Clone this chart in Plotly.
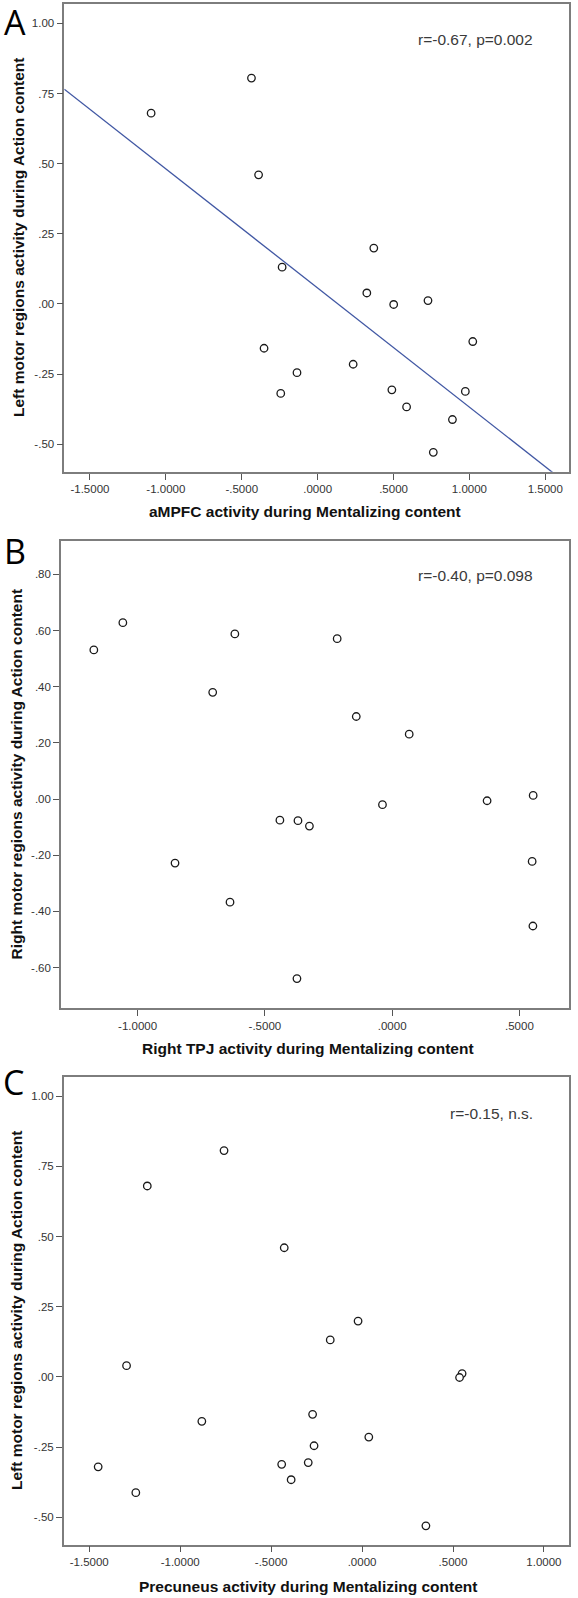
import numpy as np
import plotly.graph_objects as go

W, H = 578, 1598

# ---------------- data ----------------
# Panel A: aMPFC (Mentalizing) vs Left motor (Action)
a_x = [-1.097, -0.436, -0.389, -0.234, -0.353, -0.136, -0.243, 0.234, 0.370,
       0.324, 0.501, 0.727, 0.489, 0.586, 1.022, 0.973, 0.888, 0.762]
a_y = [0.680, 0.805, 0.460, 0.131, -0.158, -0.245, -0.319, -0.215, 0.199,
       0.039, -0.002, 0.012, -0.306, -0.367, -0.134, -0.312, -0.412, -0.529]

# Panel B: Right TPJ (Mentalizing) vs Right motor (Action)
b_x = [-1.172, -1.058, -0.618, -0.705, -0.216, -0.141, 0.067, -0.038, 0.373,
       0.554, -0.441, -0.370, -0.325, -0.853, 0.550, -0.637, 0.553, -0.374]
b_y = [0.531, 0.628, 0.588, 0.380, 0.571, 0.294, 0.231, -0.020, -0.006,
       0.013, -0.075, -0.077, -0.096, -0.228, -0.222, -0.367, -0.452, -0.639]

# Panel C: Precuneus (Mentalizing) vs Left motor (Action)
c_x = [-0.759, -1.181, -0.428, -0.022, -0.175, -1.295, 0.550, 0.536, -0.272,
       -0.881, 0.037, -0.264, -1.451, -0.442, -0.296, -0.390, -1.244, 0.351]
c_y = [0.806, 0.680, 0.460, 0.199, 0.132, 0.040, 0.012, -0.002, -0.133,
       -0.158, -0.214, -0.245, -0.320, -0.311, -0.305, -0.366, -0.412, -0.530]

a_xticks = [-1.5, -1.0, -0.5, 0.0, 0.5, 1.0, 1.5]
a_xticklabels = ["-1.5000", "-1.0000", "-.5000", ".0000", ".5000", "1.0000", "1.5000"]
a_yticks = [1.0, 0.75, 0.5, 0.25, 0.0, -0.25, -0.5]
a_yticklabels = ["1.00", ".75", ".50", ".25", ".00", "-.25", "-.50"]

b_xticks = [-1.0, -0.5, 0.0, 0.5]
b_xticklabels = ["-1.0000", "-.5000", ".0000", ".5000"]
b_yticks = [0.8, 0.6, 0.4, 0.2, 0.0, -0.2, -0.4, -0.6]
b_yticklabels = [".80", ".60", ".40", ".20", ".00", "-.20", "-.40", "-.60"]

c_xticks = [-1.5, -1.0, -0.5, 0.0, 0.5, 1.0]
c_xticklabels = ["-1.5000", "-1.0000", "-.5000", ".0000", ".5000", "1.0000"]
c_yticks = a_yticks
c_yticklabels = a_yticklabels

panel_letters = ["A", "B", "C"]
x_titles = ["aMPFC activity during Mentalizing content",
            "Right TPJ activity during Mentalizing content",
            "Precuneus activity during Mentalizing content"]
y_titles = ["Left motor regions activity during Action content",
            "Right motor regions activity during Action content",
            "Left motor regions activity during Action content"]
stats = ["r=-0.67, p=0.002", "r=-0.40, p=0.098", "r=-0.15, n.s."]

# ---------------- layout geometry (pixels) ----------------
def px(x):
    return x / W

def py(y):
    return 1 - y / H

panels = [
    dict(l=64.3, r=569.0, t=4.0, b=471.7, xr=[-1.669, 1.656], yr=[-0.598, 1.069]),
    dict(l=61.0, r=569.3, t=540.7, b=1008.3, xr=[-1.301, 0.696], yr=[-0.745, 0.920]),
    dict(l=63.8, r=569.4, t=1077.3, b=1544.6, xr=[-1.640, 1.140], yr=[-0.597, 1.067]),
]
ticks = [
    (a_xticks, a_xticklabels, a_yticks, a_yticklabels),
    (b_xticks, b_xticklabels, b_yticks, b_yticklabels),
    (c_xticks, c_xticklabels, c_yticks, c_yticklabels),
]
data = [(a_x, a_y), (b_x, b_y), (c_x, c_y)]

fig = go.Figure()
FONT = "Liberation Sans, Arial, sans-serif"
LINE_COL = "#7d7d7d"

layout = dict(
    width=W, height=H, autosize=False,
    margin=dict(l=0, r=0, t=0, b=0),
    paper_bgcolor="white", plot_bgcolor="white",
    showlegend=False, annotations=[],
)

for i, (p, tk, (xs, ys)) in enumerate(zip(panels, ticks, data)):
    sfx = "" if i == 0 else str(i + 1)
    xa, ya = "x" + sfx, "y" + sfx
    axis_common = dict(
        showline=True, linecolor=LINE_COL, linewidth=1.6, mirror=True,
        showgrid=False, zeroline=False, ticks="outside", ticklen=6,
        tickwidth=1.2, tickcolor="#555555",
        tickfont=dict(family=FONT, size=11.5, color="#333333"),
    )
    layout["xaxis" + sfx] = dict(axis_common, domain=[px(p["l"]), px(p["r"])],
                                 range=p["xr"], anchor=ya,
                                 tickmode="array", tickvals=tk[0], ticktext=tk[1])
    layout["yaxis" + sfx] = dict(axis_common, domain=[py(p["b"]), py(p["t"])],
                                 range=p["yr"], anchor=xa,
                                 tickmode="array", tickvals=tk[2], ticktext=tk[3])

    if i == 0:
        slope, intercept = np.polyfit(xs, ys, 1)
        lx = np.array(p["xr"])
        fig.add_trace(go.Scatter(x=lx, y=slope * lx + intercept, mode="lines",
                                 line=dict(color="#4057a3", width=1.3),
                                 xaxis=xa, yaxis=ya, hoverinfo="skip"))
    fig.add_trace(go.Scatter(
        x=xs, y=ys, mode="markers", xaxis=xa, yaxis=ya,
        marker=dict(symbol="circle", size=7.5, color="white",
                    line=dict(color="#1a1a1a", width=1.3)),
    ))

# annotations: panel letters, axis titles, stats
letter_pos = [(15, 22), (15, 551), (13, 1082)]
xtitle_pos = [(305, 511.7), (308, 1048.5), (308, 1586)]
ytitle_pos = [(18, 238), (16, 774.5), (16, 1311)]
stat_pos = [(535, 40), (535, 575), (535, 1113)]

for i in range(3):
    layout["annotations"].append(dict(
        text=panel_letters[i], x=px(letter_pos[i][0]), y=py(letter_pos[i][1]),
        xref="paper", yref="paper", showarrow=False, xanchor="center", yanchor="middle",
        font=dict(family="Open Sans, sans-serif", size=34, color="black")))
    layout["annotations"].append(dict(
        text="<b>" + x_titles[i] + "</b>", x=px(xtitle_pos[i][0]), y=py(xtitle_pos[i][1]),
        xref="paper", yref="paper", showarrow=False, xanchor="center", yanchor="middle",
        font=dict(family=FONT, size=15.5, color="#111111")))
    layout["annotations"].append(dict(
        text="<b>" + y_titles[i] + "</b>", x=px(ytitle_pos[i][0]), y=py(ytitle_pos[i][1]),
        xref="paper", yref="paper", showarrow=False, xanchor="center", yanchor="middle",
        textangle=-90, font=dict(family=FONT, size=15.5, color="#111111")))
    layout["annotations"].append(dict(
        text=stats[i], x=px(stat_pos[i][0]), y=py(stat_pos[i][1]),
        xref="paper", yref="paper", showarrow=False, xanchor="right", yanchor="middle",
        font=dict(family=FONT, size=15.5, color="#3a3a3a")))

fig.update_layout(**layout)
fig.write_html("out.html", config={"displayModeBar": False},
               post_script="document.body.style.margin='0px';")
